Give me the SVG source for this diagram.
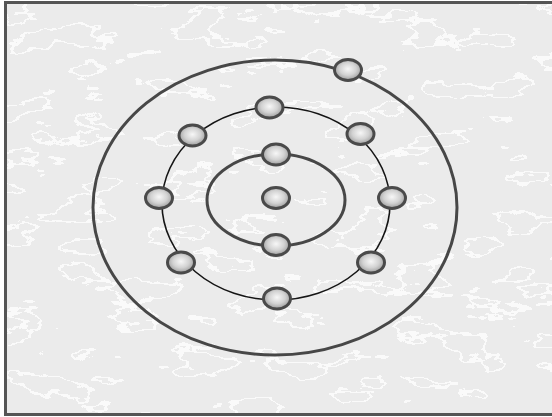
<svg xmlns="http://www.w3.org/2000/svg" width="552" height="417" viewBox="0 0 552 417">
  <defs>
    <radialGradient id="ball" cx="50%" cy="45%" r="55%">
      <stop offset="0" stop-color="#f7f7f7"/>
      <stop offset="0.55" stop-color="#d2d2d2"/>
      <stop offset="1" stop-color="#9a9a9a"/>
    </radialGradient>
    <!-- sparse white marbled streaks over the grey paper -->
    <filter id="marble" x="0" y="0" width="100%" height="100%">
      <feTurbulence type="fractalNoise" baseFrequency="0.018 0.04" numOctaves="4" seed="11" result="n"/>
      <feColorMatrix in="n" type="matrix" values="0 0 0 0 1  0 0 0 0 1  0 0 0 0 1  1 0 0 0 0" result="w"/>
      <feComponentTransfer in="w">
        <feFuncA type="discrete" tableValues="0 0 0 0 0 0 0 0 0 0 0 0 0 0 0 0 0 0 0 0 0 0 0 0 0.75 0.75 0 0 0 0 0 0 0 0 0 0 0 0 0 0"/>
      </feComponentTransfer>
      <feGaussianBlur stdDeviation="0.6"/>
    </filter>
    <style>
      .orbit-thick { fill: none; stroke: #474747; stroke-width: 3; }
      .orbit-thin { fill: none; stroke: #151515; stroke-width: 1.6; }
      .electron { fill: url(#ball); stroke: #4a4a4a; stroke-width: 3; }
    </style>
  </defs>

  <!-- paper background -->
  <rect x="0" y="0" width="552" height="417" fill="#ffffff"/>
  <rect x="5" y="2" width="560" height="412" fill="#ebebeb"/>
  <rect x="5" y="2" width="560" height="412" fill="#ffffff" filter="url(#marble)"/>
  <rect x="5.5" y="2.5" width="560" height="412" fill="none" stroke="#555555" stroke-width="3"/>

  <!-- orbits -->
  <g id="orbits">
    <ellipse id="orbit-outer" class="orbit-thick" cx="275" cy="207.5" rx="182" ry="147.5"/>
    <ellipse id="orbit-middle" class="orbit-thin" cx="276" cy="203.5" rx="114" ry="96.5"/>
    <ellipse id="orbit-inner" class="orbit-thick" cx="276" cy="200" rx="69" ry="46"/>
  </g>

  <!-- nucleus -->
  <g id="nucleus">
    <ellipse class="electron" cx="276" cy="198" rx="13.5" ry="10.5"/>
  </g>

  <!-- electrons -->
  <g id="inner-shell">
    <ellipse class="electron" cx="276" cy="154.5" rx="13.5" ry="10.5"/>
    <ellipse class="electron" cx="276" cy="245" rx="13.5" ry="10.5"/>
  </g>
  <g id="middle-shell">
    <ellipse class="electron" cx="269.5" cy="107.5" rx="13.5" ry="10.5"/>
    <ellipse class="electron" cx="192.5" cy="135.5" rx="13.5" ry="10.5"/>
    <ellipse class="electron" cx="360.5" cy="134" rx="13.5" ry="10.5"/>
    <ellipse class="electron" cx="159" cy="198" rx="13.5" ry="10.5"/>
    <ellipse class="electron" cx="392" cy="198" rx="13.5" ry="10.5"/>
    <ellipse class="electron" cx="181" cy="262.5" rx="13.5" ry="10.5"/>
    <ellipse class="electron" cx="371" cy="262.5" rx="13.5" ry="10.5"/>
    <ellipse class="electron" cx="277" cy="298.5" rx="13.5" ry="10.5"/>
  </g>
  <g id="outer-shell">
    <ellipse class="electron" cx="348" cy="70" rx="13.5" ry="10.5"/>
  </g>
</svg>
